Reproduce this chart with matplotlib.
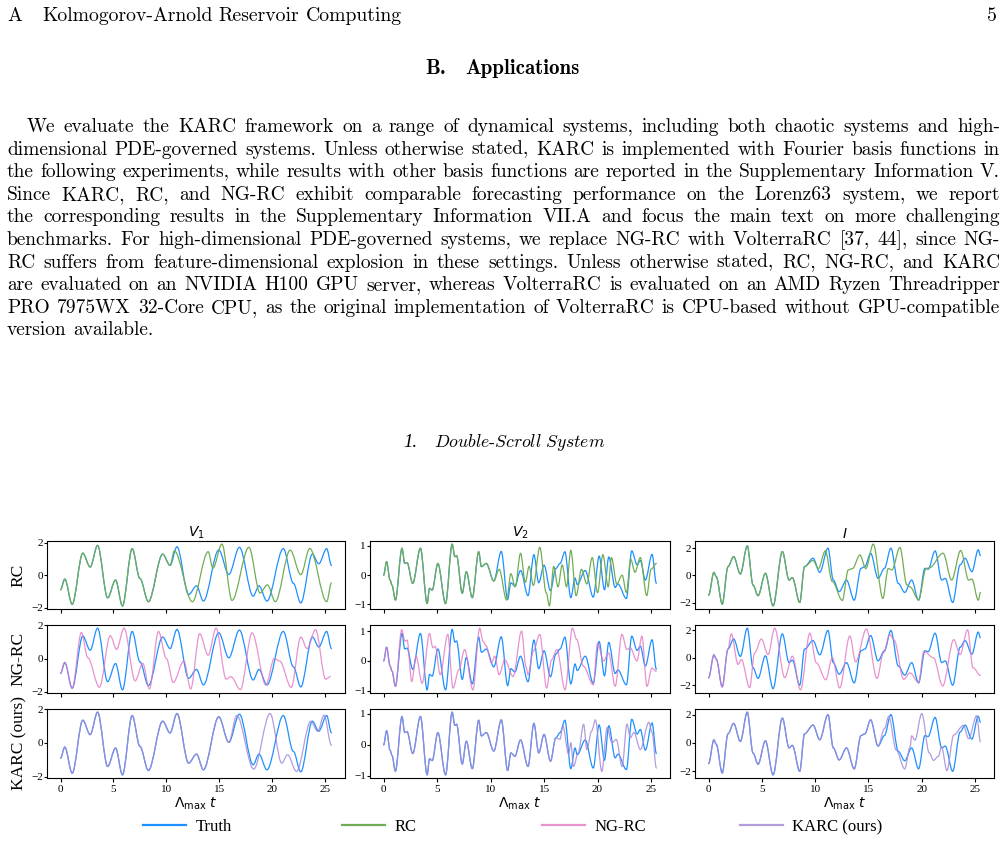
import matplotlib
matplotlib.use('Agg')
import matplotlib.pyplot as plt
from matplotlib.lines import Line2D
from matplotlib.path import Path
from matplotlib.patches import PathPatch

W, H = 1006, 842

# ---- page text ----
header_left = ["A", "Kolmogorov-Arnold", "Reservoir", "Computing"]
page_number = "5"
section_head = ["B.", "Applications"]
body_lines = [
    "We evaluate the KARC framework on a range of dynamical systems, including both chaotic systems and high-",
    "dimensional PDE-governed systems. Unless otherwise stated, KARC is implemented with Fourier basis functions in",
    "the following experiments, while results with other basis functions are reported in the Supplementary Information V.",
    "Since KARC, RC, and NG-RC exhibit comparable forecasting performance on the Lorenz63 system, we report",
    "the corresponding results in the Supplementary Information VII.A and focus the main text on more challenging",
    "benchmarks. For high-dimensional PDE-governed systems, we replace NG-RC with VolterraRC [37, 44], since NG-",
    "RC suffers from feature-dimensional explosion in these settings. Unless otherwise stated, RC, NG-RC, and KARC",
    "are evaluated on an NVIDIA H100 GPU server, whereas VolterraRC is evaluated on an AMD Ryzen Threadripper",
    "PRO 7975WX 32-Core CPU, as the original implementation of VolterraRC is CPU-based without GPU-compatible",
    "version available.",
]
subsection_num = "1."
subsection_title = r"$\mathit{Double}$-$\mathit{Scroll\ System}$"

# ---- figure data (peaks / troughs) ----
var_titles = [r"$V_1$", r"$V_2$", r"$I$"]
var_yticks = [[-2, 0, 2], [-1, 0, 1], [-2, 0, 2]]
models = ["RC", "NG-RC", "KARC (ours)"]
row_labels = ["RC", "NG-RC", "KARC (ours)"]
xticks = [0, 5, 10, 15, 20, 25]

v1_t = [0.0, 0.4, 1.1, 2.1, 2.8, 3.5, 4.45, 5.2, 5.85, 6.77, 7.5, 8.3, 9.65, 10.35, 11.0,
        12.1, 12.85, 13.5, 14.95, 15.9, 16.9, 18.2, 18.75, 19.5, 21.05, 22.0, 22.7, 23.8,
        24.4, 25.15, 25.6]
v1_truth = [-0.9, -0.24, -1.8, 1.36, 0.5, 1.84, -1.4, -0.3, -1.9, 1.64, -0.2, -1.64, 1.3, 0.6,
            1.76, -1.2, -0.66, -1.6, 1.56, 0.04, 1.72, -1.3, -0.66, -1.6, 1.64, -0.5, -1.72,
            1.3, 0.7, 1.64, 0.6]
v1_rc_t = [10.75, 12.45, 13.95, 14.4, 15.25, 16.2, 17.8, 18.85, 19.55, 20.3, 21.7, 22.7,
           23.55, 25.15, 25.6]
v1_rc = [1.5, -1.64, 1.45, 0.43, 1.92, -1.56, 1.72, -1.1, -0.6, -1.64, 1.55, 0.03, 1.65,
         -1.64, -0.48]
v1_ng_t = [1.97, 2.57, 3.67, 4.7, 5.3, 6.0, 7.05, 7.77, 8.4, 9.25, 10.0, 10.65, 11.65, 12.3,
           13.15, 13.95, 14.7, 15.65, 16.1, 17.0, 18.1, 19.4, 20.2, 20.7, 21.8, 22.7, 23.3,
           24.1, 25.05, 25.5]
v1_ng = [1.58, 0.05, -1.74, 1.38, 0.55, 1.84, -1.35, -0.29, -1.84, 1.64, 0.0, -1.45, -0.15,
         -1.84, 1.5, 0.2, 1.84, -1.25, -1.1, -1.88, 1.55, -1.6, 0.0, -0.15, -1.75, 1.3, 0.6,
         1.75, -1.25, -1.1]
v1_karc_t = [16.65, 18.25, 19.8, 20.9, 21.45, 22.3, 23.65, 24.3, 24.9, 25.6]
v1_karc = [1.64, -1.56, 1.76, -1.2, -0.7, -1.7, 1.3, 0.7, 1.66, -0.14]

v2_t = [0.0, 0.28, 0.6, 0.78, 1.1, 1.72, 1.97, 2.19, 2.72, 3.44, 4.07, 4.29, 4.54, 5.07,
        5.79, 6.41, 6.66, 6.82, 7.35, 7.73, 8.29, 8.89, 9.14, 9.6, 10.3, 11.0, 11.6, 11.9,
        12.27, 12.8, 13.5, 14.05, 14.5, 15.0, 15.6, 16.1, 16.5, 16.95, 17.5, 17.9, 18.1,
        18.85, 19.6, 20.15, 20.65, 21.05, 21.65, 21.9, 22.7, 23.2, 23.7, 24.0, 24.47, 25.1,
        25.5]
v2_truth = [0.0, 0.46, -0.17, -0.34, -0.85, 0.92, 0.4, 0.43, -0.28, 0.92, -0.97, -0.45, -0.51,
            0.4, -0.97, 1.06, 0.63, 0.67, -0.62, 0.12, -0.77, 0.8, 0.29, 0.4, -0.2, 0.81,
            -0.83, -0.26, -0.37, 0.16, -0.7, 0.7, -0.26, 0.34, -0.53, 0.23, 0.4, 0.8, -0.77,
            -0.1, -0.32, 0.16, -0.75, 0.65, -0.5, 0.62, -0.42, -0.3, -0.8, 0.83, 0.35, 0.5,
            -0.17, 0.71, -0.28]
v2_rc_t = [10.3, 10.8, 11.5, 11.9, 12.3, 12.8, 13.25, 13.6, 14.0, 14.6, 15.2, 15.5, 15.9,
           16.3, 16.7, 17.1, 17.5, 18.0, 18.5, 19.0, 19.5, 20.0, 20.5, 21.0, 21.3, 21.8, 22.3,
           22.7, 23.1, 23.5, 24.0, 24.6, 25.0, 25.5]
v2_rc = [-0.2, 0.2, -0.85, 0.05, -0.4, 0.75, -0.25, 0.3, -0.35, 0.95, -0.6, -1.05, 0.3, -0.4,
         0.35, -0.4, 0.85, -0.7, 0.2, -0.3, 0.6, -0.6, 0.7, -0.4, 0.6, -0.3, 0.0, -0.6, 0.55,
         0.1, 0.6, -0.7, 0.2, 0.4]
v2_ng_t = [1.69, 2.0, 2.19, 2.63, 3.03, 3.6, 4.29, 4.6, 4.82, 5.29, 6.0, 6.48, 7.04, 7.57,
           8.35, 8.98, 9.29, 9.6, 10.07, 10.39, 10.8, 11.33, 12.1, 12.9, 13.3, 13.5, 14.0,
           14.6, 15.24, 15.7, 16.2, 16.96, 17.65, 18.05, 18.68, 19.6, 20.0, 20.56, 21.03,
           21.65, 22.28, 22.75, 23.06, 23.68, 24.15, 24.62, 25.09, 25.5]
v2_ng = [1.05, 0.66, 0.7, -0.69, 0.16, -0.75, 0.92, 0.44, 0.49, -0.46, 0.89, -0.91, -0.29,
         0.38, -0.97, 1.1, 0.66, 0.5, -0.07, 0.16, -0.46, 0.04, -0.52, 1.0, -0.18, -0.46,
         0.33, 0.89, -0.91, 0.04, 0.38, -0.97, 1.1, 0.72, -0.18, -0.8, 0.6, 0.0, 0.27, -0.85,
         0.89, 0.38, 0.44, 0.0, 0.83, -0.85, -0.24, -0.35]
v2_karc_t = [16.5, 16.75, 17.3, 17.5, 17.75, 18.2, 18.7, 19.0, 19.45, 19.8, 20.4, 20.9,
             21.35, 21.75, 22.3, 22.75, 23.06, 23.4, 24.0, 24.8, 25.1, 25.5]
v2_karc = [0.18, 0.62, -0.31, 0.07, -0.7, -0.26, 0.67, -0.15, 0.45, 0.81, -0.86, 0.56, 0.07,
           0.18, -0.7, 0.67, 0.23, 0.4, -0.15, 0.73, 0.4, -0.75]

i_t = [0.0, 0.5, 0.72, 1.28, 1.82, 2.35, 2.98, 3.63, 4.17, 4.64, 5.33, 6.05, 6.92, 7.55, 7.86,
       8.55, 9.0, 9.8, 10.43, 11.2, 11.7, 12.25, 12.94, 13.66, 14.3, 14.66, 15.2, 15.9, 16.5,
       17.1, 17.8, 18.4, 19.05, 19.7, 20.3, 20.6, 21.25, 21.87, 22.2, 22.9, 23.6, 24.06, 24.7,
       25.3, 25.5]
i_truth = [-1.46, 0.22, -0.1, -2.12, 0.64, 1.38, 0.1, 2.17, -0.72, -1.5, 0.15, -2.25, 1.75,
           -0.35, -0.17, -2.0, 0.64, 1.26, 0.22, 2.0, -0.35, -1.2, -0.35, -1.83, 0.52, 0.64,
           1.63, -0.22, 0.52, 2.0, -0.6, -1.26, -0.35, -1.83, 0.52, 0.45, 1.8, -0.35, -0.22,
           -2.0, 0.77, 1.26, 0.27, 1.88, 1.46]
i_rc_t = [9.8, 10.3, 10.95, 11.6, 12.55, 13.1, 13.5, 14.2, 14.75, 15.45, 16.35, 16.85, 17.2,
          17.95, 18.6, 18.9, 19.7, 20.4, 20.7, 22.0, 22.8, 23.65, 24.4, 24.7, 25.3, 25.5]
i_rc = [1.1, 0.5, 1.8, -0.45, -1.85, 0.4, 0.5, 1.5, 0.5, 2.3, -1.7, 0.5, 0.4, 2.05, -0.7,
        -0.85, -1.8, 0.5, 0.55, 1.63, -0.35, 1.83, -0.35, -0.27, -1.83, -1.26]
i_ng_t = [2.13, 2.76, 3.07, 3.85, 4.32, 4.95, 5.58, 6.2, 7.14, 7.86, 8.62, 9.5, 10.1, 11.0,
          11.6, 12.3, 13.25, 13.8, 14.8, 15.8, 16.4, 17.0, 17.4, 18.3, 18.9, 19.7, 20.2,
          21.1, 21.96, 23.0, 23.6, 24.3, 24.8, 25.5]
i_ng = [1.76, -0.48, -0.12, -2.17, 0.36, 1.37, 0.24, 2.17, -1.45, 0.12, -2.34, 1.8, -0.36,
        -1.6, 0.0, -2.2, 1.6, -0.3, 2.1, -1.5, 0.36, 1.7, 1.3, -1.57, -1.1, -1.8, 0.48, 0.0,
        -2.05, 1.33, 0.24, 2.05, -0.72, -1.28]
i_karc_t = [16.5, 16.9, 17.6, 18.4, 18.9, 19.05, 19.36, 20.0, 20.7, 21.1, 21.55, 21.86, 22.35,
            23.0, 23.9, 24.4, 25.15, 25.5]
i_karc = [1.0, 1.88, -0.5, -1.83, -0.3, 0.5, 0.2, 2.07, -0.7, -1.23, -0.95, -0.28, -1.95,
          0.56, 1.23, 0.3, 1.93, 0.08]

truth_series = [(v1_t, v1_truth), (v2_t, v2_truth), (i_t, i_truth)]
pred_series = [
    [(v1_rc_t, v1_rc), (v1_ng_t, v1_ng), (v1_karc_t, v1_karc)],
    [(v2_rc_t, v2_rc), (v2_ng_t, v2_ng), (v2_karc_t, v2_karc)],
    [(i_rc_t, i_rc), (i_ng_t, i_ng), (i_karc_t, i_karc)],
]

truth_color = '#1E90FF'
model_colors = ['#72ad55', '#e377c2', '#a68bd6']
model_alpha = [1.0, 0.8, 0.85]


def join_truth(tt, tv, pt, pv):
    # prediction follows the truth until it splits off
    head_t = [t for t in tt if t < pt[0]]
    head_v = tv[:len(head_t)]
    return head_t + list(pt), head_v + list(pv)


def curve(ax, ts, vs, **kw):
    # smooth bezier through the read extrema (flat tangent at each peak / trough)
    verts = [(ts[0], vs[0])]
    codes = [Path.MOVETO]
    for k in range(1, len(ts)):
        d = (ts[k] - ts[k - 1]) / 3.0
        verts += [(ts[k - 1] + d, vs[k - 1]), (ts[k] - d, vs[k]), (ts[k], vs[k])]
        codes += [Path.CURVE4] * 3
    patch = PathPatch(Path(verts, codes), facecolor='none', capstyle='round',
                      joinstyle='round', **kw)
    ax.add_patch(patch)


fig = plt.figure(figsize=(W / 100, H / 100), dpi=100)
renderer = fig.canvas.get_renderer()

body_font = dict(family='cmr10', size=14.0)
head_font = dict(family='cmr10', size=14.2)
bold_font = dict(family='cmb10', size=15.0)


def fx(x):
    return x / W


def fy(y):
    return 1 - y / H


def word_widths(words, font):
    out = []
    for w in words:
        t = fig.text(0, 0, w, **font)
        out.append(t.get_window_extent(renderer).width)
        t.remove()
    return out


def draw_words(words, x0, y, font, x1=None, gap=None):
    ws = word_widths(words, font)
    if x1 is not None and len(words) > 1:
        gap = (x1 - x0 - sum(ws)) / (len(words) - 1)
    x = x0
    for w, wd in zip(words, ws):
        fig.text(fx(x), fy(y), w, ha='left', va='baseline', **font)
        x += wd + gap


draw_words(header_left[:1], 7, 21, head_font, gap=0)
draw_words(header_left[1:], 42, 21, head_font, gap=6.5)
fig.text(fx(997), fy(21), page_number, ha='right', va='baseline', **head_font)

fig.text(fx(425), fy(74), section_head[0], ha='left', va='baseline', **bold_font)
fig.text(fx(580), fy(74), section_head[1], ha='right', va='baseline', **bold_font)

for k, line in enumerate(body_lines):
    y = 132 + k * 22.6
    x0 = 27 if k == 0 else 7
    if k < len(body_lines) - 1:
        draw_words(line.split(), x0, y, body_font, x1=1000)
    else:
        draw_words(line.split(), x0, y, body_font, gap=6.5)

fig.text(fx(403), fy(447), subsection_num, ha='left', va='baseline',
         family='Liberation Serif', style='italic', size=13.5)
fig.text(fx(605), fy(447), subsection_title, ha='right', va='baseline',
         family='cmr10', math_fontfamily='cm', size=12.8)

# ---- the 3x3 panel grid ----
rows_px = [(541, 609), (625, 693), (709, 778)]
cols_px = [(47, 345), (370, 670), (695, 994)]
tick_font = 'Liberation Serif'

for j in range(3):
    tt, tv = truth_series[j]
    for i in range(3):
        top, bot = rows_px[i]
        left, right = cols_px[j]
        ax = fig.add_axes([fx(left), fy(bot), fx(right - left), (bot - top) / H])
        curve(ax, tt, tv, edgecolor=truth_color, lw=0.9)
        pt, pv = join_truth(tt, tv, *pred_series[j][i])
        curve(ax, pt, pv, edgecolor=model_colors[i], alpha=model_alpha[i], lw=0.9)
        ax.autoscale_view()
        ax.set_xticks(xticks)
        ax.set_yticks(var_yticks[j])
        ax.tick_params(axis='y', length=2, pad=1, labelsize=8)
        ax.tick_params(axis='x', length=3, pad=2, labelsize=8)
        for lab in ax.get_xticklabels() + ax.get_yticklabels():
            lab.set_family(tick_font)
        for sp in ax.spines.values():
            sp.set_linewidth(0.8)
        if i == 0:
            ax.set_title(var_titles[j], fontsize=10, pad=2)
        if i < 2:
            ax.tick_params(labelbottom=False)
        else:
            ax.set_xlabel(r'$\Lambda_{\max}\ t$', fontsize=10, labelpad=1)
        if j == 0:
            ax.set_ylabel(row_labels[i], family=tick_font, fontsize=12.5, labelpad=3)

# ---- legend along the bottom ----
legend_names = ["Truth"] + models
legend_colors = [truth_color] + model_colors
legend_alpha = [1.0] + model_alpha
legend_x = [143, 342, 542, 740]
for name, col, al, x in zip(legend_names, legend_colors, legend_alpha, legend_x):
    h = Line2D([], [], color=col, alpha=al, lw=1.6)
    fig.legend([h], [name], loc='center left', bbox_to_anchor=(fx(x), fy(827)),
               frameon=False, borderpad=0, borderaxespad=0, handlelength=2.55,
               handletextpad=0.6, prop=dict(family=tick_font, size=12))

fig.savefig('out.png', dpi=100)
